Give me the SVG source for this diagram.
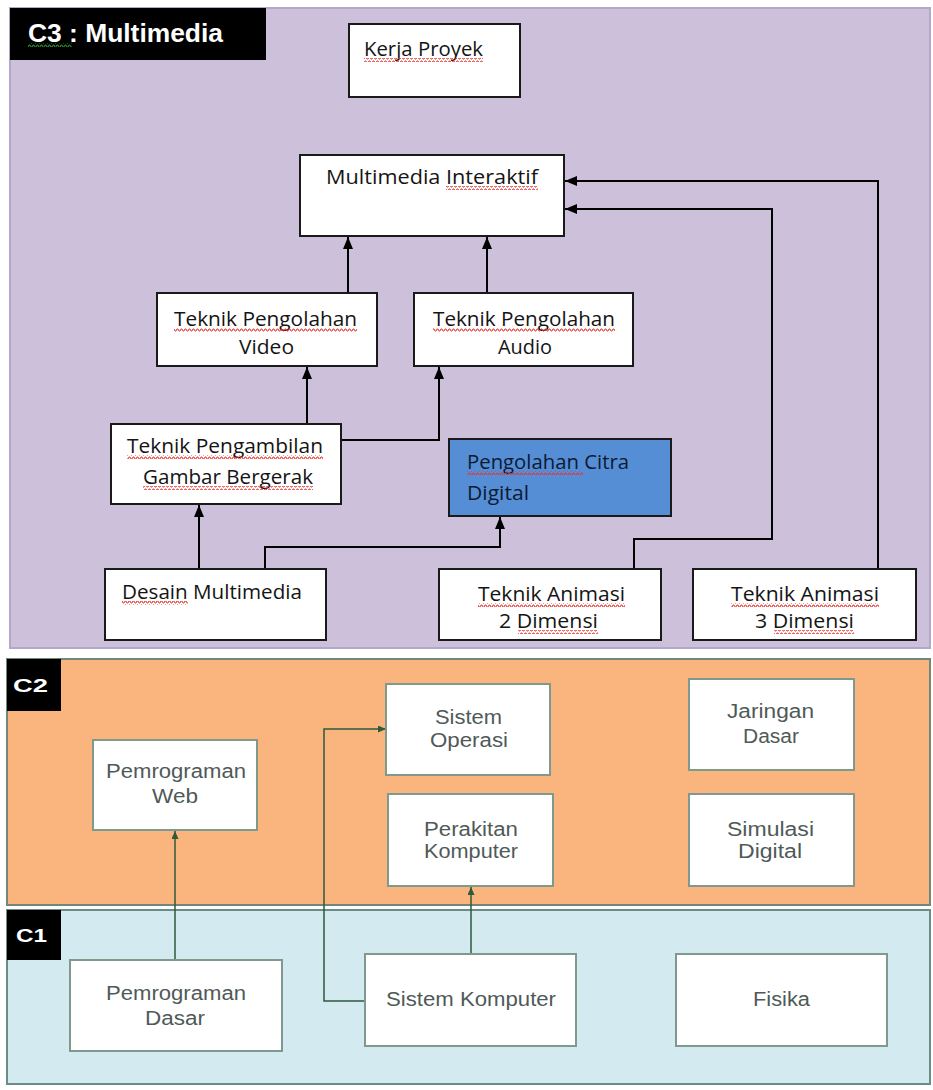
<svg xmlns="http://www.w3.org/2000/svg" width="933" height="1090" viewBox="0 0 933 1090">
<defs>
<style>
.c3box{fill:#fff;stroke:#1a1a1a;stroke-width:2}
.blue{fill:#558ED5;stroke:#1a1a1a;stroke-width:2}
.lbox{fill:#fff;stroke:#7f9a8c;stroke-width:2}
.t3{font-family:"Open Sans","Noto Sans",sans-serif;font-size:20px;fill:#141414}
.t1{font-family:"Liberation Sans",Arial,sans-serif;font-size:20px;fill:#4f5a58}
.lab{font-family:"Liberation Sans",Arial,sans-serif;font-weight:bold;fill:#fff}
.conB{fill:none;stroke:#000;stroke-width:2;marker-end:url(#ab)}
.conG{fill:none;stroke:#2f5a3c;stroke-width:1.5;marker-end:url(#ag)}
.sq{fill:url(#wr)}
.sqg{fill:url(#wg)}
</style>
<marker id="ab" markerUnits="userSpaceOnUse" markerWidth="12" markerHeight="10" refX="12" refY="5" orient="auto">
<path d="M0,0 L12,5 L0,10 z" fill="#000"/>
</marker>
<marker id="ag" markerUnits="userSpaceOnUse" markerWidth="8" markerHeight="7" refX="8" refY="3.5" orient="auto">
<path d="M0,0 L8,3.5 L0,7 z" fill="#2f5a3c"/>
</marker>
<pattern id="wr" patternUnits="userSpaceOnUse" width="4" height="4">
<polyline points="0,3 1,1 2,1 3,3 4,3" fill="none" stroke="#e8312a" stroke-width="1"/>
</pattern>
<pattern id="wg" patternUnits="userSpaceOnUse" width="4" height="4">
<polyline points="0,3 1,1 2,1 3,3 4,3" fill="none" stroke="#2a9a2a" stroke-width="1"/>
</pattern>
</defs>

<g id="panel-c3">
<rect x="10" y="8" width="920" height="640" fill="#CCC0DA" stroke="#b5a6cc" stroke-width="2"/>
<rect x="10" y="8" width="256" height="52" fill="#000"/>
<text class="lab" x="28" y="42" font-size="25" textLength="195" lengthAdjust="spacingAndGlyphs">C3 : Multimedia</text>
<rect class="sqg" x="28" y="43" width="44" height="4"/>
</g>
<g id="panel-c2">
<rect x="7" y="659" width="923" height="246" fill="#F9B57D" stroke="#6f8877" stroke-width="2"/>
<rect x="7" y="659" width="54" height="52" fill="#000"/>
<text class="lab" x="13" y="692" font-size="18" textLength="35" lengthAdjust="spacingAndGlyphs">C2</text>
</g>
<g id="panel-c1">
<rect x="7" y="910" width="923" height="174" fill="#D3EAF0" stroke="#6c8c86" stroke-width="2"/>
<rect x="7" y="910" width="54" height="50" fill="#000"/>
<text class="lab" x="16" y="942" font-size="18" textLength="31" lengthAdjust="spacingAndGlyphs">C1</text>
</g>

<g id="connectors">
<path class="conB" d="M348,293 V237"/>
<path class="conB" d="M487,293 V237"/>
<path class="conB" d="M878,569 V181 H565"/>
<path class="conB" d="M634,569 V539 H772 V209 H565"/>
<path class="conB" d="M307,424 V367"/>
<path class="conB" d="M341,440 H439 V367"/>
<path class="conB" d="M199,569 V505"/>
<path class="conB" d="M265,569 V547 H500 V517"/>
<path class="conG" d="M175,960 V831"/>
<path class="conG" d="M365,1001 H324 V729 H386"/>
<path class="conG" d="M471,954 V887"/>
</g>

<g id="kerja-proyek">
<rect class="c3box" x="349" y="24" width="171" height="73"/>
<text class="t3" x="364" y="56" textLength="119" lengthAdjust="spacingAndGlyphs">Kerja Proyek</text>
<rect class="sq" x="364" y="58" width="119" height="4"/>
</g>
<g id="multimedia-interaktif">
<rect class="c3box" x="300" y="155" width="264" height="81"/>
<text class="t3" x="326" y="184" textLength="212" lengthAdjust="spacingAndGlyphs">Multimedia Interaktif</text>
<rect class="sq" x="446" y="186" width="92" height="4"/>
</g>
<g id="pengolahan-video">
<rect class="c3box" x="157" y="293" width="220" height="73"/>
<text class="t3" x="174" y="326" textLength="183" lengthAdjust="spacingAndGlyphs">Teknik Pengolahan</text>
<rect class="sq" x="174" y="328" width="183" height="4"/>
<text class="t3" x="239" y="354" textLength="55" lengthAdjust="spacingAndGlyphs">Video</text>
</g>
<g id="pengolahan-audio">
<rect class="c3box" x="414" y="293" width="219" height="73"/>
<text class="t3" x="433" y="326" textLength="182" lengthAdjust="spacingAndGlyphs">Teknik Pengolahan</text>
<rect class="sq" x="433" y="328" width="182" height="4"/>
<text class="t3" x="498" y="354" textLength="54" lengthAdjust="spacingAndGlyphs">Audio</text>
</g>
<g id="pengambilan-gambar">
<rect class="c3box" x="111" y="424" width="230" height="80"/>
<text class="t3" x="127" y="453" textLength="196" lengthAdjust="spacingAndGlyphs">Teknik Pengambilan</text>
<rect class="sq" x="127" y="455" width="196" height="4"/>
<text class="t3" x="143" y="484" textLength="170" lengthAdjust="spacingAndGlyphs">Gambar Bergerak</text>
<rect class="sq" x="143" y="486" width="170" height="4"/>
</g>
<g id="pengolahan-citra">
<rect class="blue" x="449" y="439" width="222" height="77"/>
<text class="t3" x="467" y="469" textLength="162" lengthAdjust="spacingAndGlyphs" style="fill:#0d1a33">Pengolahan Citra</text>
<rect class="sq" x="467" y="471" width="116" height="4"/>
<text class="t3" x="467" y="500" textLength="62" lengthAdjust="spacingAndGlyphs" style="fill:#0d1a33">Digital</text>
</g>
<g id="desain-multimedia">
<rect class="c3box" x="105" y="569" width="221" height="71"/>
<text class="t3" x="122" y="599" textLength="180" lengthAdjust="spacingAndGlyphs">Desain Multimedia</text>
<rect class="sq" x="122" y="601" width="66" height="4"/>
</g>
<g id="animasi-2d">
<rect class="c3box" x="439" y="569" width="222" height="71"/>
<text class="t3" x="478" y="601" textLength="147" lengthAdjust="spacingAndGlyphs">Teknik Animasi</text>
<rect class="sq" x="478" y="603" width="147" height="4"/>
<text class="t3" x="499" y="628" textLength="99" lengthAdjust="spacingAndGlyphs">2 Dimensi</text>
<rect class="sq" x="518" y="630" width="80" height="4"/>
</g>
<g id="animasi-3d">
<rect class="c3box" x="693" y="569" width="223" height="71"/>
<text class="t3" x="731" y="601" textLength="148" lengthAdjust="spacingAndGlyphs">Teknik Animasi</text>
<rect class="sq" x="731" y="603" width="148" height="4"/>
<text class="t3" x="755" y="628" textLength="99" lengthAdjust="spacingAndGlyphs">3 Dimensi</text>
<rect class="sq" x="774" y="630" width="80" height="4"/>
</g>

<g id="sistem-operasi">
<rect class="lbox" x="386" y="684" width="164" height="91"/>
<text class="t1" x="435" y="724" textLength="67" lengthAdjust="spacingAndGlyphs">Sistem</text>
<text class="t1" x="430" y="747" textLength="78" lengthAdjust="spacingAndGlyphs">Operasi</text>
</g>
<g id="jaringan-dasar">
<rect class="lbox" x="689" y="679" width="165" height="91"/>
<text class="t1" x="727" y="718" textLength="87" lengthAdjust="spacingAndGlyphs">Jaringan</text>
<text class="t1" x="743" y="743" textLength="56" lengthAdjust="spacingAndGlyphs">Dasar</text>
</g>
<g id="pemrograman-web">
<rect class="lbox" x="93" y="740" width="164" height="90"/>
<text class="t1" x="106" y="778" textLength="140" lengthAdjust="spacingAndGlyphs">Pemrograman</text>
<text class="t1" x="152" y="803" textLength="46" lengthAdjust="spacingAndGlyphs">Web</text>
</g>
<g id="perakitan-komputer">
<rect class="lbox" x="388" y="794" width="165" height="92"/>
<text class="t1" x="424" y="836" textLength="94" lengthAdjust="spacingAndGlyphs">Perakitan</text>
<text class="t1" x="424" y="858" textLength="94" lengthAdjust="spacingAndGlyphs">Komputer</text>
</g>
<g id="simulasi-digital">
<rect class="lbox" x="689" y="794" width="165" height="92"/>
<text class="t1" x="727" y="836" textLength="87" lengthAdjust="spacingAndGlyphs">Simulasi</text>
<text class="t1" x="738" y="858" textLength="64" lengthAdjust="spacingAndGlyphs">Digital</text>
</g>
<g id="pemrograman-dasar">
<rect class="lbox" x="70" y="960" width="212" height="91"/>
<text class="t1" x="106" y="1000" textLength="140" lengthAdjust="spacingAndGlyphs">Pemrograman</text>
<text class="t1" x="145" y="1025" textLength="60" lengthAdjust="spacingAndGlyphs">Dasar</text>
</g>
<g id="sistem-komputer">
<rect class="lbox" x="365" y="954" width="211" height="92"/>
<text class="t1" x="386" y="1006" textLength="170" lengthAdjust="spacingAndGlyphs">Sistem Komputer</text>
</g>
<g id="fisika">
<rect class="lbox" x="676" y="954" width="211" height="92"/>
<text class="t1" x="753" y="1006" textLength="57" lengthAdjust="spacingAndGlyphs">Fisika</text>
</g>
</svg>
